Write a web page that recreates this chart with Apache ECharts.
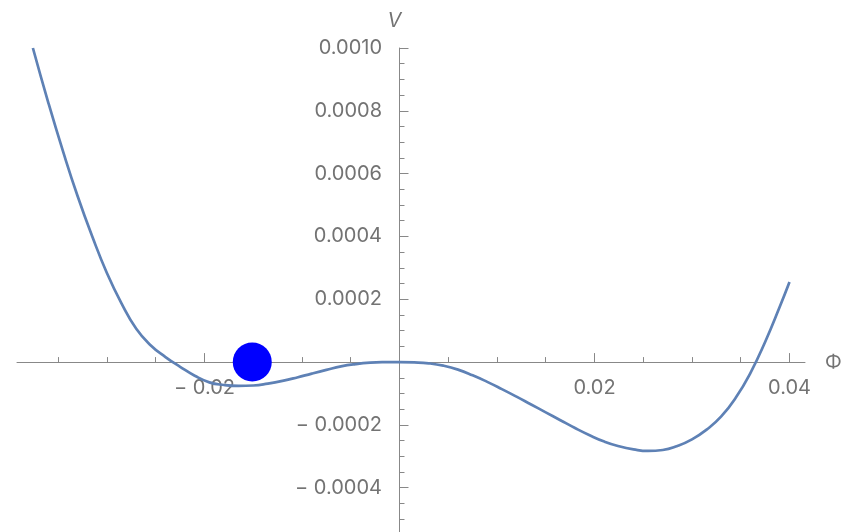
<!DOCTYPE html>
<html>
<head>
<meta charset="utf-8">
<script src="https://cdn.jsdelivr.net/npm/echarts@6/dist/echarts.min.js"></script>
<style>
  html, body { margin: 0; padding: 0; background: #ffffff; }
  #chart { width: 852px; height: 532px; }
</style>
</head>
<body>
<div id="chart"></div>
<script>
// Potential V(Φ) sampled along the field
const phi = [
  -0.0376, -0.0360, -0.0345, -0.0330, -0.0315, -0.0300, -0.0285, -0.0270,
  -0.0255, -0.0240, -0.0225, -0.0210, -0.0195, -0.0180, -0.0165, -0.0150,
  -0.0135, -0.0120, -0.0105, -0.0090, -0.0075, -0.0060, -0.0045, -0.0030,
  -0.0015, 0.0, 0.0015, 0.0030, 0.0045, 0.0060, 0.0075, 0.0090,
  0.0105, 0.0120, 0.0135, 0.0150, 0.0165, 0.0180, 0.0195, 0.0210,
  0.0225, 0.0240, 0.0255, 0.0270, 0.0285, 0.0300, 0.0315, 0.0330,
  0.0345, 0.0360, 0.0375, 0.0390, 0.0400
];
const potential = [
  0.001000, 0.000824, 0.000670, 0.000527, 0.000399, 0.000283, 0.000186, 0.000106,
  0.000053, 0.000016, -0.000015, -0.0000435, -0.0000645, -0.000073, -0.000076, -0.0000745,
  -0.0000685, -0.000060, -0.000049, -0.0000366, -0.0000248, -0.0000137, -0.0000064, -0.0000019,
  -0.0000003, 0.0, -0.0000010, -0.0000041, -0.0000115, -0.000024, -0.000042, -0.000063,
  -0.000086, -0.000110, -0.000135, -0.000160, -0.000185, -0.000210, -0.000233, -0.000253,
  -0.000268, -0.000278, -0.000283, -0.000280, -0.000267, -0.000246, -0.000215, -0.000173,
  -0.000113, -0.000034, 0.000064, 0.000176, 0.000255
];

// Position of the ball resting on the potential
const ballPhi = [-0.0151];
const ballV = [0.0];

// Axis ticks and labels
const xMajorTicks = [-0.02, 0, 0.02, 0.04];
const xMinorTicks = [-0.035, -0.03, -0.025, -0.015, -0.01, -0.005, 0.005, 0.01, 0.015, 0.025, 0.03, 0.035];
const xTickLabels = [-0.02, 0.02, 0.04];
const yMajorTicks = [-0.0004, -0.0002, 0, 0.0002, 0.0004, 0.0006, 0.0008, 0.001];
const yMinorTicks = [
  -0.0005, -0.00045, -0.00035, -0.0003, -0.00025, -0.00015, -0.0001, -0.00005,
  0.00005, 0.0001, 0.00015, 0.00025, 0.0003, 0.00035, 0.00045, 0.0005, 0.00055,
  0.00065, 0.0007, 0.00075, 0.00085, 0.0009, 0.00095
];
const yTickLabels = [-0.0004, -0.0002, 0.0002, 0.0004, 0.0006, 0.0008, 0.001];

const AXIS_COLOR = '#888888';
const LABEL_COLOR = '#737373';
const FONT = 'Inter, "Liberation Sans", Arial, sans-serif';

function fmt(v, digits) {
  const s = Math.abs(v).toFixed(digits);
  return v < 0 ? '\u2212 ' + s : s;
}

const X_MIN = -0.03923, X_MAX = 0.04159;
const Y_MIN = -0.000541, Y_MAX = 0.001;
const GRID = { left: 17, right: 47, top: 48, bottom: 0, containLabel: false, outerBoundsMode: 'none' };
const CANVAS_H = 532;

// Tick labels sit beside the crossing axes, which run through the origin
// (x = 399.5 px, y = 362 px); the label margin is measured from the grid edge.
const Y_LABEL_RIGHT = 382;
const X_LABEL_TOP = 378;

const curve = phi.map((p, i) => [p, potential[i]]);
const ball = ballPhi.map((p, i) => [p, ballV[i]]);

const chart = echarts.init(document.getElementById('chart'), null, { renderer: 'canvas' });

chart.setOption({
  animation: false,
  backgroundColor: '#ffffff',
  // grid 0 carries the axes, labels and major ticks; grid 1 only the minor ticks
  grid: [Object.assign({}, GRID), Object.assign({}, GRID)],
  xAxis: [
    {
      gridIndex: 0, type: 'value', min: X_MIN, max: X_MAX, position: 'bottom',
      name: '\u03A6', nameLocation: 'end', nameGap: 20,
      nameTextStyle: { color: LABEL_COLOR, fontSize: 19, fontFamily: FONT, padding: [6, 0, 0, 0] },
      axisLine: { onZero: true, lineStyle: { color: AXIS_COLOR, width: 1 } },
      axisTick: { show: true, inside: true, length: 9, customValues: xMajorTicks, lineStyle: { color: AXIS_COLOR, width: 1 } },
      axisLabel: {
        show: true, customValues: xTickLabels, margin: X_LABEL_TOP - (CANVAS_H - GRID.bottom),
        color: LABEL_COLOR, fontSize: 20, fontFamily: FONT,
        formatter: v => fmt(v, 2)
      },
      splitLine: { show: false }
    },
    {
      gridIndex: 1, type: 'value', min: X_MIN, max: X_MAX, position: 'bottom',
      axisLine: { show: false, onZero: true },
      axisTick: { show: true, inside: true, length: 5, customValues: xMinorTicks, lineStyle: { color: AXIS_COLOR, width: 1 } },
      axisLabel: { show: false },
      splitLine: { show: false }
    }
  ],
  yAxis: [
    {
      gridIndex: 0, type: 'value', min: Y_MIN, max: Y_MAX, position: 'left',
      name: 'V', nameLocation: 'end', nameGap: 17,
      nameTextStyle: { color: LABEL_COLOR, fontSize: 20, fontStyle: 'italic', fontFamily: FONT, padding: [0, 10, 0, 0] },
      axisLine: { onZero: true, lineStyle: { color: AXIS_COLOR, width: 1 } },
      axisTick: { show: true, inside: true, length: 9, customValues: yMajorTicks, lineStyle: { color: AXIS_COLOR, width: 1 } },
      axisLabel: {
        show: true, customValues: yTickLabels, margin: GRID.left - Y_LABEL_RIGHT,
        color: LABEL_COLOR, fontSize: 20, fontFamily: FONT, padding: [8, 0, 0, 0],
        formatter: v => fmt(v, 4)
      },
      splitLine: { show: false }
    },
    {
      gridIndex: 1, type: 'value', min: Y_MIN, max: Y_MAX, position: 'left',
      axisLine: { show: false, onZero: true },
      axisTick: { show: true, inside: true, length: 5, customValues: yMinorTicks, lineStyle: { color: AXIS_COLOR, width: 1 } },
      axisLabel: { show: false },
      splitLine: { show: false }
    }
  ],
  series: [
    {
      type: 'line', xAxisIndex: 0, yAxisIndex: 0,
      data: curve, smooth: 0.5, showSymbol: false, symbol: 'none',
      lineStyle: { color: '#5e81b5', width: 2.7 },
      z: 3, silent: true
    },
    {
      type: 'scatter', xAxisIndex: 0, yAxisIndex: 0,
      data: ball, symbol: 'circle', symbolSize: 39,
      itemStyle: { color: '#0000ff', opacity: 1 },
      z: 5, silent: true
    }
  ]
});
</script>
</body>
</html>
